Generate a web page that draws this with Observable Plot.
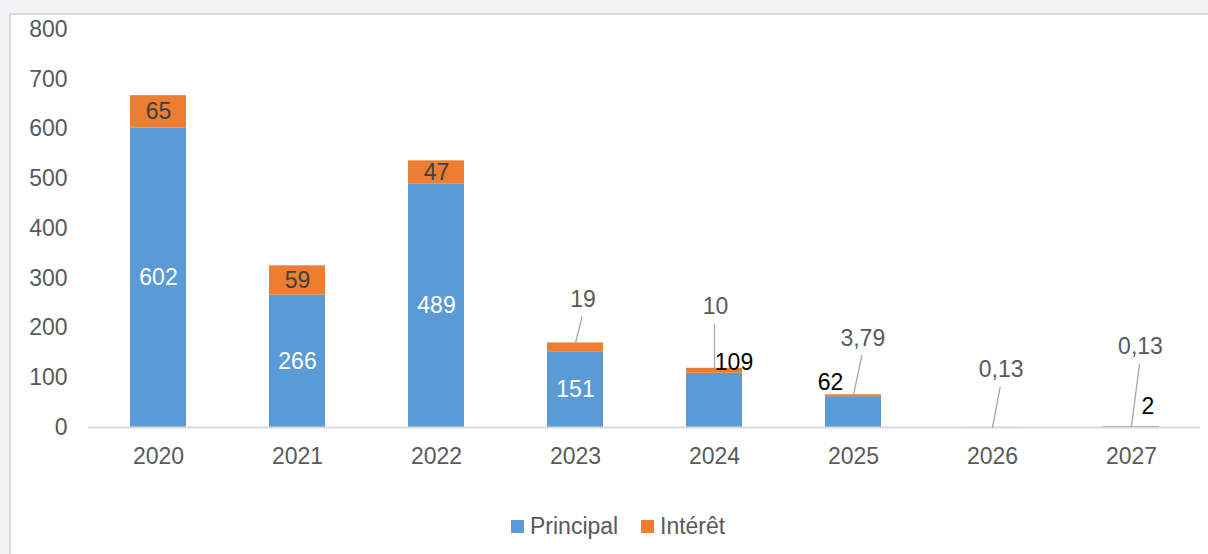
<!DOCTYPE html>
<html>
<head>
<meta charset="utf-8">
<script src="https://cdn.jsdelivr.net/npm/d3@7"></script>
<script src="https://cdn.jsdelivr.net/npm/@observablehq/plot@0.6"></script>
<style>
  html, body { margin: 0; padding: 0; width: 1208px; height: 554px; overflow: hidden; background: #f3f3f5; }
  #panel { position: absolute; left: 9px; top: 13px; width: 1199px; height: 541px; background: #fff;
           border-left: 2px solid #d9d9d9; border-top: 2px solid #d9d9d9; box-sizing: border-box; }
  #chart { position: absolute; left: 0; top: 0; }
  #legend { position: absolute; top: 510px; left: 0; width: 1208px; height: 32px;
            font-family: "Liberation Sans", Arial, sans-serif; font-size: 23px; color: #595959; }
  .sw { position: absolute; width: 13px; height: 13px; top: 10px; }
  .lt { position: absolute; top: 2px; line-height: 28px; }
</style>
</head>
<body>
<div id="panel"></div>
<div id="chart"></div>
<div id="legend"></div>
<script>
// ---- data ----
const years = ["2020", "2021", "2022", "2023", "2024", "2025", "2026", "2027"];
const principal = [602, 266, 489, 151, 109, 62, 0, 2];
const interet = [65, 59, 47, 19, 10, 3.79, 0.13, 0.13];
const seriesNames = ["Principal", "Intérêt"];
const seriesColors = ["#5b9bd5", "#ed7d31"];
const yTicks = [0, 100, 200, 300, 400, 500, 600, 700, 800];

// ---- layout of Excel-style manually placed labels (pixels) ----
const calloutLeaders = [
  {year: "2023", len: 26.8, rot: 14},
  {year: "2024", len: 44, rot: 0},
  {year: "2025", len: 40, rot: 12},
  {year: "2026", len: 40.7, rot: 10.8},
  {year: "2027", len: 62.8, rot: 7.3}
];
const principalOutside = [
  {year: "2024", dx: 19.5, dy: -10.5},
  {year: "2025", dx: -23, dy: -13.7},
  {year: "2027", dx: 16.5, dy: -20}
];

const fmt = v => String(v).replace(".", ",");
const rows = [];
years.forEach((y, i) => rows.push({year: y, series: "Principal", value: principal[i]}));
years.forEach((y, i) => rows.push({year: y, series: "Intérêt", value: interet[i]}));

const stats = years.map((y, i) => ({
  year: y, p: principal[i], it: interet[i],
  pMid: principal[i] / 2, iMid: principal[i] + interet[i] / 2, total: principal[i] + interet[i]
}));
const outsideSet = new Set(principalOutside.map(d => d.year));
const calloutSet = new Set(calloutLeaders.map(d => d.year));

const lineShape = { draw(ctx, l) { ctx.moveTo(0, 0); ctx.lineTo(0, -l); } };

const marks = [
  Plot.barY(rows, {x: "year", y: "value", fill: "series"}),
  Plot.ruleY([0], {stroke: "#d9d9d9", strokeWidth: 2}),
  Plot.axisX({tickSize: 0, tickPadding: 20, fill: "#595959"}),
  Plot.axisY({ticks: yTicks, tickSize: 0, tickPadding: 21, fill: "#595959"}),
  // inside principal labels
  Plot.text(stats.filter(d => d.p > 0 && !outsideSet.has(d.year)),
    {x: "year", y: "pMid", text: d => fmt(d.p), fill: "white", fontSize: 23}),
  // inside interest labels
  Plot.text(stats.filter(d => !calloutSet.has(d.year)),
    {x: "year", y: "iMid", text: d => fmt(d.it), fill: "#404040", fontSize: 23})
];
// leader lines + callout labels
calloutLeaders.forEach(c => {
  const d = stats.filter(s => s.year === c.year);
  const r = c.rot * Math.PI / 180;
  marks.push(Plot.vector(d, {x: "year", y: "total", length: c.len, rotate: c.rot, anchor: "start",
    shape: lineShape, stroke: "#a6a6a6", strokeWidth: 1.3}));
  marks.push(Plot.text(d, {x: "year", y: "total", text: s => fmt(s.it), fill: "#595959", fontSize: 23,
    dx: Math.sin(r) * c.len + 1, dy: -Math.cos(r) * c.len - 17.5}));
});
// outside principal labels
principalOutside.forEach(c => {
  const d = stats.filter(s => s.year === c.year);
  marks.push(Plot.text(d, {x: "year", y: "p", text: s => fmt(s.p), fill: "#000", fontSize: 23, dx: c.dx, dy: c.dy}));
});

const chart = Plot.plot({
  width: 1208, height: 480,
  marginLeft: 88, marginRight: 8, marginTop: 29, marginBottom: 53,
  style: {background: "transparent", fontFamily: "'Liberation Sans', Arial, sans-serif", fontSize: "23px", color: "#595959"},
  x: {domain: years, paddingInner: 0.6, paddingOuter: 0.3, label: null, axis: null},
  y: {domain: [0, 800], label: null, axis: null},
  color: {domain: seriesNames, range: seriesColors},
  marks
});
document.getElementById("chart").appendChild(chart);

// legend
const lg = document.getElementById("legend");
const legendX = [511, 641];
seriesNames.forEach((s, i) => {
  const sw = document.createElement("div");
  sw.className = "sw"; sw.style.left = legendX[i] + "px"; sw.style.background = seriesColors[i];
  const t = document.createElement("div");
  t.className = "lt"; t.style.left = (legendX[i] + 19) + "px"; t.textContent = s;
  lg.appendChild(sw); lg.appendChild(t);
});
</script>
</body>
</html>
